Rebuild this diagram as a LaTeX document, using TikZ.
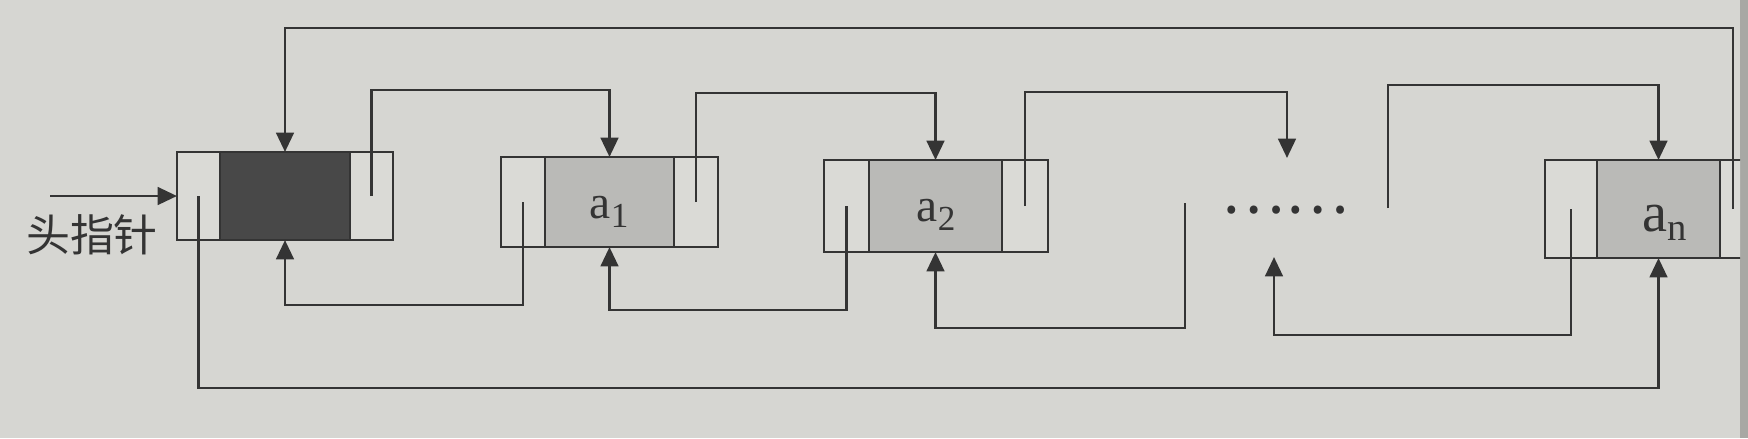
\documentclass[tikz,border=0pt]{standalone}
\usepackage{fontspec}
\newfontfamily\cjk{Noto Sans CJK SC}
\newfontfamily\lser{Liberation Serif}
\usetikzlibrary{arrows.meta,calc}
\definecolor{paper}{RGB}{214,214,210}
\definecolor{ptrfill}{RGB}{218,218,214}
\definecolor{ink}{RGB}{52,52,52}
\definecolor{datagray}{RGB}{186,186,183}
\definecolor{headfill}{RGB}{72,72,72}
\definecolor{pageedge}{RGB}{168,168,164}
\newcommand\mysub[2]{\raisebox{-2.6pt}{\fontsize{#1}{#1}\selectfont #2}}
\tikzset{
  cell/.style={draw=ink, line width=0.8pt, inner sep=0pt, outer sep=0pt},
  ptrcell/.style={cell, fill=ptrfill},
  datacell/.style={cell, fill=datagray},
  headcell/.style={cell, fill=headfill},
  arr/.style={draw=ink, line width=0.8pt, -{Triangle[width=5pt,length=5.5pt]}},
  elem/.style={text=ink, font=\lser\fontsize{13.5}{13.5}\selectfont, inner sep=0pt},
}
\begin{document}
\begin{tikzpicture}[x=0.01cm,y=-0.01cm]
\useasboundingbox (0,0) rectangle (1748,438);
\fill[paper] (0,0) rectangle (1748,438);
\fill[pageedge] (1740,0) rectangle (1748,438);
\begin{scope}
\clip (0,0) rectangle (1740,438);
% head node
\node[ptrcell, minimum width=0.43cm, minimum height=0.88cm] (hL) at (198.5,196) {};
\node[headcell, minimum width=1.30cm, minimum height=0.88cm] (hD) at (285,196) {};
\node[ptrcell, minimum width=0.43cm, minimum height=0.88cm] (hR) at (371.5,196) {};
% a1
\node[ptrcell, minimum width=0.44cm, minimum height=0.90cm] (a1L) at (523,202) {};
\node[datacell, minimum width=1.29cm, minimum height=0.90cm] (a1D) at (609.5,202) {};
\node[ptrcell, minimum width=0.44cm, minimum height=0.90cm] (a1R) at (696,202) {};
% a2
\node[ptrcell, minimum width=0.45cm, minimum height=0.92cm] (a2L) at (846.5,206) {};
\node[datacell, minimum width=1.33cm, minimum height=0.92cm] (a2D) at (935.5,206) {};
\node[ptrcell, minimum width=0.46cm, minimum height=0.92cm] (a2R) at (1025,206) {};
% an
\node[ptrcell, minimum width=0.52cm, minimum height=0.98cm] (anL) at (1571,209) {};
\node[datacell, minimum width=1.23cm, minimum height=0.98cm] (anD) at (1658.5,209) {};
\node[ptrcell, minimum width=0.26cm, minimum height=0.98cm] (anR) at (1733,209) {};
% element texts
\node[elem] (t1) at (609,212) {a\mysub{10}{1}};
\node[elem] (t2) at (936,215) {a\mysub{10}{2}};
\node[elem, font=\lser\fontsize{16}{16}\selectfont] (tn) at (1665,223) {a\mysub{11}{n}};
% dots
\node[text=ink, font=\cjk\fontsize{17}{17}\selectfont, inner sep=0pt] (dots) at (1285,210) {……};
% head pointer
\node[text=ink, font=\cjk\fontsize{12.5}{12.5}\selectfont, inner sep=0pt] (lab) at (92,235) {头指针};
\coordinate (hp) at (50,196);
\draw[arr] (hp) -- (hL.west);
% next links
\draw[arr] (hR.center) -- (hR.center |- 0,90) -| (a1D.north);
\draw[arr] (a1R.center) -- (a1R.center |- 0,93) -| (a2D.north);
\coordinate (d2) at (1287,158);
\draw[arr] (a2R.center) -- (a2R.center |- 0,92) -| (d2);
\coordinate (d3) at (1388,208);
\draw[arr] (d3) -- (1388,85) -| (anD.north);
\draw[arr] (anR.center) -- (anR.center |- 0,28) -| (hD.north);
% prior links
\draw[arr] (a1L.center) -- (a1L.center |- 0,305) -| (hD.south);
\draw[arr] (a2L.center) -- (a2L.center |- 0,310) -| (a1D.south);
\coordinate (d1) at (1185,203);
\draw[arr] (d1) -- (1185,328) -| (a2D.south);
\coordinate (d4) at (1274,257);
\draw[arr] (anL.center) -- (anL.center |- 0,335) -| (d4);
\draw[arr] (hL.center) -- (hL.center |- 0,388) -| (anD.south);
\end{scope}
\end{tikzpicture}
\end{document}
